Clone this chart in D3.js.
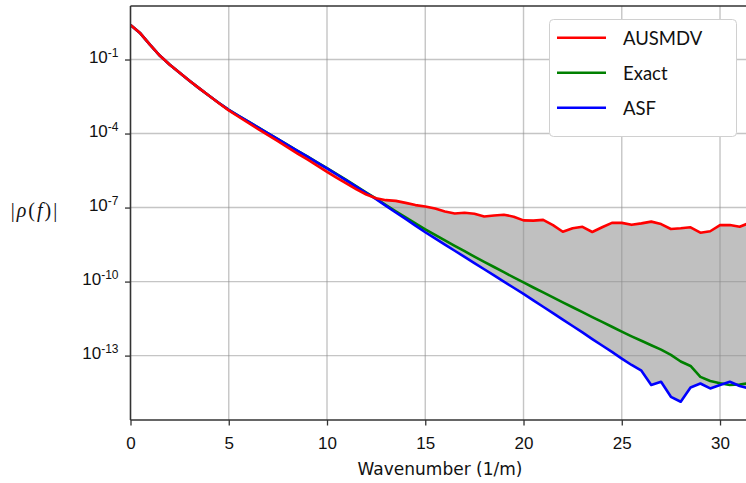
<!DOCTYPE html>
<html>
<head>
<meta charset="utf-8">
<script src="https://cdn.jsdelivr.net/npm/d3@7"></script>
<style>
  body { margin: 0; background: #fff; }
  svg { display: block; }
</style>
</head>
<body>
<div id="chart"></div>
<script>
// wavenumber samples (1/m)
const wavenumbers = [0, 0.5, 1, 1.5, 2, 2.5, 3, 3.5, 4, 4.5, 5, 5.5, 6, 6.5, 7, 7.5, 8, 8.5, 9, 9.5,
  10, 10.5, 11, 11.5, 12, 12.5, 13, 13.5, 14, 14.5, 15, 15.5, 16, 16.5, 17, 17.5, 18, 18.5, 19, 19.5,
  20, 20.5, 21, 21.5, 22, 22.5, 23, 23.5, 24, 24.5, 25, 25.5, 26, 26.5, 27, 27.5, 28, 28.5, 29, 29.5,
  30, 30.5, 31, 31.5];

// log10 |rho(f)|
const ausmdvLog = [0.40, 0.06, -0.41, -0.85, -1.21, -1.54, -1.86, -2.17, -2.47, -2.77, -3.06, -3.32, -3.57, -3.82, -4.06, -4.31, -4.56, -4.81, -5.05, -5.30,
  -5.55, -5.80, -6.03, -6.26, -6.47, -6.62, -6.70, -6.73, -6.81, -6.90, -6.96, -7.04, -7.16, -7.24, -7.21, -7.25, -7.36, -7.32, -7.29, -7.37,
  -7.52, -7.53, -7.50, -7.71, -7.98, -7.84, -7.78, -7.99, -7.80, -7.62, -7.62, -7.70, -7.64, -7.57, -7.67, -7.87, -7.84, -7.80, -8.02, -7.96,
  -7.71, -7.71, -7.78, -7.62];
const exactLog = [0.40, 0.06, -0.41, -0.85, -1.21, -1.54, -1.86, -2.17, -2.47, -2.76, -3.04, -3.28, -3.52, -3.75, -3.99, -4.23, -4.46, -4.70, -4.93, -5.17,
  -5.40, -5.64, -5.89, -6.14, -6.39, -6.64, -6.90, -7.15, -7.40, -7.64, -7.88, -8.11, -8.33, -8.55, -8.77, -8.99, -9.20, -9.41, -9.62, -9.83,
  -10.03, -10.24, -10.44, -10.64, -10.84, -11.04, -11.24, -11.44, -11.63, -11.83, -12.03, -12.22, -12.40, -12.58, -12.76, -12.97, -13.24, -13.42, -13.86, -14.03,
  -14.12, -14.19, -14.17, -14.12];
const asfLog = [0.40, 0.06, -0.41, -0.85, -1.21, -1.54, -1.86, -2.17, -2.47, -2.76, -3.04, -3.28, -3.52, -3.76, -3.99, -4.23, -4.47, -4.70, -4.94, -5.18,
  -5.41, -5.66, -5.91, -6.16, -6.41, -6.66, -6.93, -7.20, -7.46, -7.73, -8.00, -8.25, -8.50, -8.75, -9.00, -9.25, -9.50, -9.75, -10.00, -10.25,
  -10.50, -10.76, -11.02, -11.28, -11.54, -11.80, -12.06, -12.33, -12.59, -12.85, -13.12, -13.38, -13.61, -14.19, -14.06, -14.67, -14.87, -14.29, -14.13, -14.33,
  -14.19, -14.06, -14.23, -14.33];

const xTicks = [0, 5, 10, 15, 20, 25, 30];
const yTickExps = [-1, -4, -7, -10, -13];

const legendItems = [
  { name: 'AUSMDV', color: '#ff0000' },
  { name: 'Exact', color: '#008000' },
  { name: 'ASF', color: '#0000ff' }
];

const width = 746;
const height = 483;
const plot = { left: 130.5, right: 749.5, top: 6, bottom: 420 };

const rows = wavenumbers.map((k, i) => ({
  k,
  ausmdv: Math.pow(10, ausmdvLog[i]),
  exact: Math.pow(10, exactLog[i]),
  asf: Math.pow(10, asfLog[i])
}));

const xScale = d3.scaleLinear().domain([0, 31.5]).range([plot.left, plot.right]);
const yScale = d3.scaleLog()
  .domain([Math.pow(10, -15.61), Math.pow(10, 1.169)])
  .range([plot.bottom, plot.top]);

const svg = d3.select('#chart')
  .append('svg')
  .attr('width', width)
  .attr('height', height);

svg.append('defs').append('clipPath').attr('id', 'clip')
  .append('rect')
  .attr('x', plot.left).attr('y', plot.top)
  .attr('width', plot.right - plot.left).attr('height', plot.bottom - plot.top);

const body = svg.append('g').attr('clip-path', 'url(#clip)');

// shaded gap between AUSMDV and ASF
body.append('path')
  .datum(rows)
  .attr('fill', '#c0c0c0')
  .attr('d', d3.area()
    .x((d) => xScale(d.k))
    .y0((d) => yScale(d.asf))
    .y1((d) => yScale(d.ausmdv)));

// grid, drawn over the fill
const grid = body.append('g')
  .attr('stroke', '#8c8c8c')
  .attr('stroke-opacity', 0.5)
  .attr('stroke-width', 1.4);
grid.selectAll('line.v')
  .data(xTicks.filter((t) => t > 0))
  .join('line')
  .attr('x1', (d) => xScale(d)).attr('x2', (d) => xScale(d))
  .attr('y1', plot.top).attr('y2', plot.bottom);
grid.selectAll('line.h')
  .data(yTickExps)
  .join('line')
  .attr('x1', plot.left).attr('x2', plot.right)
  .attr('y1', (d) => yScale(Math.pow(10, d))).attr('y2', (d) => yScale(Math.pow(10, d)));

const line = (key) => d3.line()
  .x((d) => xScale(d.k))
  .y((d) => yScale(d[key]));

[['exact', '#008000'], ['asf', '#0000ff'], ['ausmdv', '#ff0000']].forEach(([key, color]) => {
  body.append('path')
    .datum(rows)
    .attr('fill', 'none')
    .attr('stroke', color)
    .attr('stroke-width', 2.6)
    .attr('stroke-linejoin', 'round')
    .attr('d', line(key));
});

// axes
const xAxis = svg.append('g')
  .attr('transform', `translate(0, ${plot.bottom})`)
  .call(d3.axisBottom(xScale).tickValues(xTicks).tickSize(5.5).tickPadding(0));
xAxis.select('.domain').remove();
xAxis.selectAll('.tick line').attr('stroke', '#333').attr('stroke-width', 1.3);
xAxis.selectAll('.tick text')
  .attr('dy', null)
  .attr('y', 29)
  .style('font-family', '"Liberation Sans", Arial, sans-serif')
  .style('font-size', '17px')
  .attr('fill', '#111');

const yAxis = svg.append('g')
  .attr('transform', `translate(${plot.left}, 0)`)
  .call(d3.axisLeft(yScale).tickValues(yTickExps.map((e) => Math.pow(10, e))).tickSize(5.5));
yAxis.select('.domain').remove();
yAxis.selectAll('.tick line').attr('stroke', '#333').attr('stroke-width', 1.3);
yAxis.selectAll('.tick text')
  .attr('dy', null)
  .attr('x', -12)
  .attr('y', 2.5)
  .style('font-family', '"Liberation Sans", Arial, sans-serif')
  .attr('fill', '#111')
  .text(null)
  .each(function (d, i) {
    const t = d3.select(this);
    t.append('tspan').style('font-size', '17px').text('10');
    t.append('tspan').attr('dy', -5.5).style('font-size', '12px').text(String(yTickExps[i]));
  });

// spines
svg.append('line')
  .attr('x1', plot.left).attr('x2', plot.left)
  .attr('y1', plot.top).attr('y2', plot.bottom)
  .attr('stroke', '#333').attr('stroke-width', 1.6);
svg.append('line')
  .attr('x1', plot.left).attr('x2', plot.right)
  .attr('y1', plot.bottom).attr('y2', plot.bottom)
  .attr('stroke', '#333').attr('stroke-width', 1.6);
svg.append('line')
  .attr('x1', plot.left).attr('x2', plot.right)
  .attr('y1', plot.top).attr('y2', plot.top)
  .attr('stroke', '#333').attr('stroke-width', 1.6);

// axis labels
svg.append('text')
  .attr('x', 440).attr('y', 475)
  .attr('text-anchor', 'middle')
  .style('font-family', '"DejaVu Sans", sans-serif')
  .style('font-size', '17px')
  .attr('fill', '#111')
  .text('Wavenumber (1/m)');

const ylab = svg.append('text')
  .attr('x', 35).attr('y', 217)
  .attr('text-anchor', 'middle')
  .style('font-family', '"Liberation Serif", "DejaVu Serif", serif')
  .style('font-size', '20px')
  .style('letter-spacing', '2px')
  .attr('fill', '#111');
ylab.append('tspan').text('|');
ylab.append('tspan').style('font-style', 'italic').text('ρ');
ylab.append('tspan').text('(');
ylab.append('tspan').style('font-style', 'italic').text('f');
ylab.append('tspan').text(')|');

// legend
const legend = svg.append('g').attr('transform', 'translate(549, 19)');
legend.append('rect')
  .attr('x', 0.5).attr('y', 0.5)
  .attr('width', 187).attr('height', 117)
  .attr('rx', 4)
  .attr('fill', '#fff')
  .attr('stroke', '#d0d0d0')
  .attr('stroke-width', 1);
const items = legend.selectAll('g.item')
  .data(legendItems)
  .join('g')
  .attr('transform', (d, i) => `translate(0, ${18.7 + i * 35})`);
items.append('line')
  .attr('x1', 8).attr('x2', 57)
  .attr('stroke', (d) => d.color)
  .attr('stroke-width', 2.6);
items.append('text')
  .attr('x', 74).attr('y', 7.5)
  .style('font-family', 'Lato, sans-serif')
  .style('font-size', '18.5px')
  .attr('fill', '#111')
  .text((d) => d.name);
</script>
</body>
</html>
